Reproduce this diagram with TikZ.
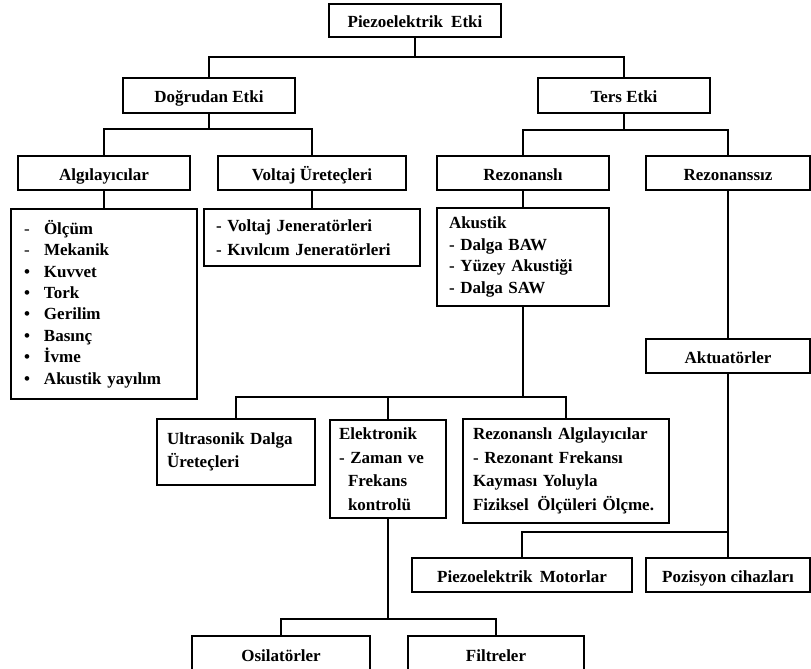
\documentclass[tikz,border=0pt]{standalone}
\usepackage{fontspec}
\setmainfont{Liberation Serif}
\begin{document}
\begin{tikzpicture}[x=1pt,y=-1pt,
  base/.style={draw, line width=1.6pt, inner sep=0pt, minimum height=34pt,
    font=\fontsize{17}{22}\selectfont\bfseries},
  box/.style={base, text height=14pt, text depth=0pt},
  tbox/.style={base, align=left},
  conn/.style={line width=1.6pt}]
\useasboundingbox (0,0) rectangle (811,669);
% level 0-1
\node[box, minimum width=172pt, minimum height=33pt] (P) at (415,20.5) {Piezoelektrik\hspace{4pt} Etki};
\node[box, minimum width=172pt, minimum height=35pt] (D) at (209,95.5) {Doğrudan Etki};
\node[box, minimum width=172pt, minimum height=35pt] (T) at (624,95.5) {Ters Etki};
% level 2
\node[box, minimum width=172pt] (Alg) at (104,173) {Algılayıcılar};
\node[box, minimum width=188pt] (VU) at (312,173) {Voltaj Üreteçleri};
\node[box, minimum width=172pt] (Rez) at (523,173) {Rezonanslı};
\node[box, minimum width=164pt] (Rsz) at (728,173) {Rezonanssız};
% level 3
\node[tbox, text width=160pt, inner xsep=13pt, minimum height=190pt,
  font=\fontsize{17}{21.4}\selectfont\bfseries] (AlgL) at (104,304)
  {\makebox[20pt][l]{\mdseries -}Ölçüm\\
   \makebox[20pt][l]{\mdseries -}Mekanik\\
   \makebox[20pt][l]{•}Kuvvet\\
   \makebox[20pt][l]{•}Tork\\
   \makebox[20pt][l]{•}Gerilim\\
   \makebox[20pt][l]{•}Basınç\\
   \makebox[20pt][l]{•}İvme\\
   \makebox[20pt][l]{•}Akustik yayılım};
\node[tbox, text width=192pt, inner xsep=12pt, minimum height=57pt,
  font=\fontsize{17}{24}\selectfont\bfseries] (VJ) at (312,237.5)
  {- Voltaj Jeneratörleri\\- Kıvılcım Jeneratörleri};
\node[tbox, text width=148pt, inner xsep=12pt, minimum height=98pt,
  font=\fontsize{17}{21.5}\selectfont\bfseries] (Ak) at (523,257)
  {Akustik\\- Dalga BAW\\- Yüzey Akustiği\\- Dalga SAW};
\node[box, minimum width=164pt] (Akt) at (728,356) {Aktuatörler};
% level 4
\node[tbox, text width=138pt, inner xsep=10pt, minimum height=66pt,
  font=\fontsize{17}{23}\selectfont\bfseries] (Ul) at (236,452)
  {Ultrasonik Dalga\\Üreteçleri};
\node[tbox, text width=98pt, inner xsep=9pt, minimum height=98pt,
  font=\fontsize{17}{23.5}\selectfont\bfseries] (El) at (388,469)
  {Elektronik\\- Zaman ve\\\hspace*{9pt}Frekans\\\hspace*{9pt}kontrolü};
\node[tbox, text width=186pt, inner xsep=10pt, minimum height=104pt,
  font=\fontsize{17}{23.5}\selectfont\bfseries] (RA) at (566,471)
  {Rezonanslı Algılayıcılar\\- Rezonant Frekansı\\Kayması Yoluyla\\Fiziksel\hspace{3pt} Ölçüleri Ölçme.};
\node[box, minimum width=220pt] (PM) at (522,575) {Piezoelektrik\hspace{3pt} Motorlar};
\node[box, minimum width=164pt] (Pos) at (728,575) {Pozisyon cihazları};
% level 5
\node[box, minimum width=178pt, minimum height=36pt] (Os) at (281,654) {Osilatörler};
\node[box, minimum width=176pt, minimum height=36pt] (Fi) at (496,654) {Filtreler};
% junctions
\coordinate (j1) at (415,57);
\coordinate (j2) at (209,129);
\coordinate (j3) at (624,130);
\coordinate (j4) at (523,397);
\coordinate (j5) at (728,532);
\coordinate (j6) at (388,619);
% connectors
\draw[conn] (P.south) -- (j1) -| (D.north);
\draw[conn] (j1) -| (T.north);
\draw[conn] (D.south) -- (j2) -| (Alg.north);
\draw[conn] (j2) -| (VU.north);
\draw[conn] (T.south) -- (j3) -| (Rez.north);
\draw[conn] (j3) -| (Rsz.north);
\draw[conn] (Alg.south) -- (Alg.south |- AlgL.north);
\draw[conn] (VU.south) -- (VU.south |- VJ.north);
\draw[conn] (Rez.south) -- (Rez.south |- Ak.north);
\draw[conn] (Rsz.south) -- (Rsz.south |- Akt.north);
\draw[conn] (Ak.south) -- (j4) -| (Ul.north);
\draw[conn] (j4) -| (El.north);
\draw[conn] (j4) -| (RA.north);
\draw[conn] (Akt.south) -- (Akt.south |- Pos.north);
\draw[conn] (j5) -| (PM.north);
\draw[conn] (El.south) -- (j6) -| (Os.north);
\draw[conn] (j6) -| (Fi.north);
\end{tikzpicture}
\end{document}
